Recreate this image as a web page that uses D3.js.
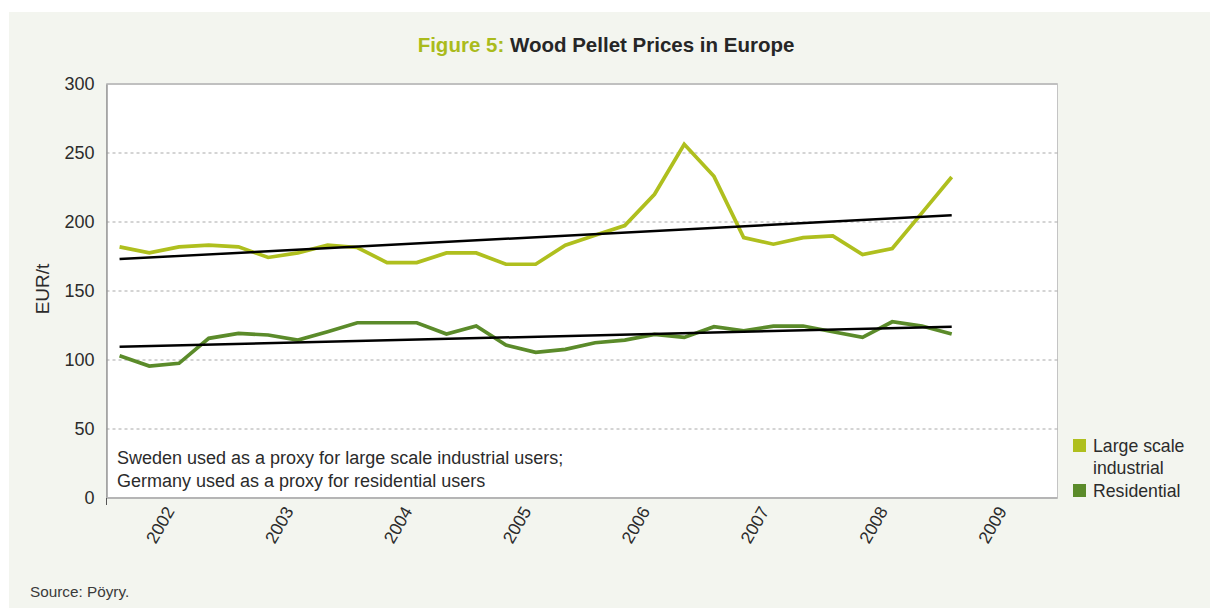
<!DOCTYPE html>
<html>
<head>
<meta charset="utf-8">
<script src="https://cdn.jsdelivr.net/npm/d3@7"></script>
<style>
  html, body { margin: 0; padding: 0; background: #ffffff; }
  svg { display: block; font-family: "Liberation Sans", Arial, Helvetica, sans-serif; }
</style>
</head>
<body>
<svg id="chart" width="1210" height="608"></svg>
<script>
// ---- data ----
const quarters = ["2002Q1","2002Q2","2002Q3","2002Q4","2003Q1","2003Q2","2003Q3","2003Q4",
  "2004Q1","2004Q2","2004Q3","2004Q4","2005Q1","2005Q2","2005Q3","2005Q4",
  "2006Q1","2006Q2","2006Q3","2006Q4","2007Q1","2007Q2","2007Q3","2007Q4",
  "2008Q1","2008Q2","2008Q3","2008Q4","2009Q1"];
const largeScale = [182, 177.6, 182, 183.2, 182, 174.3, 177.6, 183.2, 181.5, 170.6, 170.6, 177.6, 177.6,
  169.4, 169.4, 183.2, 190.4, 197.4, 220.1, 256.3, 233.1, 188.7, 183.9, 188.7, 189.9, 176.4, 180.8, 206.6, 232.6];
const residential = [103.1, 95.6, 97.6, 115.7, 119.3, 118.1, 114.5, 120.5, 127, 127, 127, 118.8, 124.6,
  110.8, 105.5, 107.7, 112.5, 114.4, 118.5, 116.4, 124.1, 121.2, 124.6, 124.6, 120.5, 116.4, 127.7, 124.6, 118.8];
const largeTrend = [173.1, 204.9];      // trend line values at first and last quarter
const residentialTrend = [109.6, 124.1];
const yearLabels = ["2002","2003","2004","2005","2006","2007","2008","2009"];
const yTicks = [0, 50, 100, 150, 200, 250, 300];
const seriesNames = ["Large scale industrial", "Residential"];

// ---- layout ----
const svg = d3.select("#chart");
const W = 1210, H = 608;
const plot = { left: 106.5, right: 1057.5, top: 84, bottom: 498 };
const colLarge = "#afbf1e";
const colRes = "#5b8b2a";
const textCol = "#2b2b2b";

svg.append("rect").attr("x", 9).attr("y", 12).attr("width", W - 9).attr("height", H - 12).attr("fill", "#f3f5ef");

const x = d3.scaleLinear().domain([2002, 2010]).range([plot.left, plot.right]);
const y = d3.scaleLinear().domain([0, 300]).range([plot.bottom, plot.top]);
const tq = i => 2002 + (i + 0.44) / 4;

// plot area
svg.append("rect").attr("x", plot.left).attr("y", plot.top)
  .attr("width", plot.right - plot.left).attr("height", plot.bottom - plot.top)
  .attr("fill", "#ffffff").attr("stroke", "#c4c4c4").attr("stroke-width", 1);
svg.append("line").attr("x1", plot.left).attr("x2", plot.right).attr("y1", plot.top).attr("y2", plot.top)
  .attr("stroke", "#c0c0c0").attr("stroke-width", 2);

// gridlines
svg.append("g").selectAll("line").data(yTicks.filter(d => d > 0 && d < 300)).join("line")
  .attr("x1", plot.left).attr("x2", plot.right)
  .attr("y1", d => y(d)).attr("y2", d => y(d))
  .attr("stroke", "#a9a9a9").attr("stroke-width", 1).attr("stroke-dasharray", "3,3");

// axes
const yAxis = d3.axisLeft(y).tickValues(yTicks).tickSize(0).tickPadding(12);
const gy = svg.append("g").attr("transform", `translate(${plot.left},0)`).call(yAxis);
gy.select(".domain").attr("stroke", "#9a9a9a").attr("stroke-width", 1.5);
gy.selectAll("text").attr("font-size", 18).attr("fill", textCol)
  .attr("font-family", "'Liberation Sans', Arial, sans-serif");

svg.append("line").attr("x1", plot.left).attr("x2", plot.right).attr("y1", plot.bottom).attr("y2", plot.bottom)
  .attr("stroke", "#b5b5b5").attr("stroke-width", 2);
svg.append("line").attr("x1", plot.left).attr("x2", plot.left).attr("y1", plot.bottom).attr("y2", plot.bottom + 7)
  .attr("stroke", "#555").attr("stroke-width", 1);

// x labels
svg.append("g").selectAll("text").data(yearLabels).join("text")
  .attr("transform", d => `translate(${x(+d + 0.5) + 4},${plot.bottom + 10}) rotate(-60)`)
  .attr("text-anchor", "end").attr("dy", "0.35em")
  .attr("font-size", 17.5).attr("fill", textCol)
  .text(d => d);

// y title
svg.append("text").attr("transform", `translate(49,${(plot.top + plot.bottom) / 2 - 2}) rotate(-90)`)
  .attr("text-anchor", "middle").attr("font-size", 19).attr("fill", textCol).text("EUR/t");

// lines
const line = d3.line().x((d, i) => x(tq(i))).y(d => y(d));
svg.append("path").datum(largeScale).attr("d", line).attr("fill", "none")
  .attr("stroke", colLarge).attr("stroke-width", 3.7).attr("stroke-linejoin", "miter");
svg.append("path").datum(residential).attr("d", line).attr("fill", "none")
  .attr("stroke", colRes).attr("stroke-width", 3.7).attr("stroke-linejoin", "miter");

const last = quarters.length - 1;
[largeTrend, residentialTrend].forEach(t => {
  svg.append("line").attr("x1", x(tq(0))).attr("x2", x(tq(last)))
    .attr("y1", y(t[0])).attr("y2", y(t[1]))
    .attr("stroke", "#000").attr("stroke-width", 2.5);
});

// annotation
svg.append("text").attr("x", 117).attr("y", 464).attr("font-size", 18).attr("fill", textCol)
  .text("Sweden used as a proxy for large scale industrial users;");
svg.append("text").attr("x", 117).attr("y", 487).attr("font-size", 18).attr("fill", textCol)
  .text("Germany used as a proxy for residential users");

// legend
const lg = svg.append("g");
lg.append("rect").attr("x", 1073).attr("y", 439).attr("width", 13).attr("height", 13).attr("fill", colLarge);
lg.append("text").attr("x", 1093).attr("y", 452).attr("font-size", 17.7).attr("fill", textCol).text("Large scale");
lg.append("text").attr("x", 1093).attr("y", 474).attr("font-size", 17.7).attr("fill", textCol).text("industrial");
lg.append("rect").attr("x", 1073).attr("y", 484).attr("width", 13).attr("height", 13).attr("fill", colRes);
lg.append("text").attr("x", 1093).attr("y", 497).attr("font-size", 17.7).attr("fill", textCol).text(seriesNames[1]);

// title
const title = svg.append("text").attr("x", 606).attr("y", 52).attr("text-anchor", "middle")
  .attr("font-size", 20.5).attr("font-weight", "bold");
title.append("tspan").attr("fill", "#aabb1c").text("Figure 5: ");
title.append("tspan").attr("fill", "#262626").text("Wood Pellet Prices in Europe");

// source
svg.append("text").attr("x", 30).attr("y", 597).attr("font-size", 15.3).attr("fill", "#3a3a3a").text("Source: Pöyry.");
</script>
</body>
</html>
